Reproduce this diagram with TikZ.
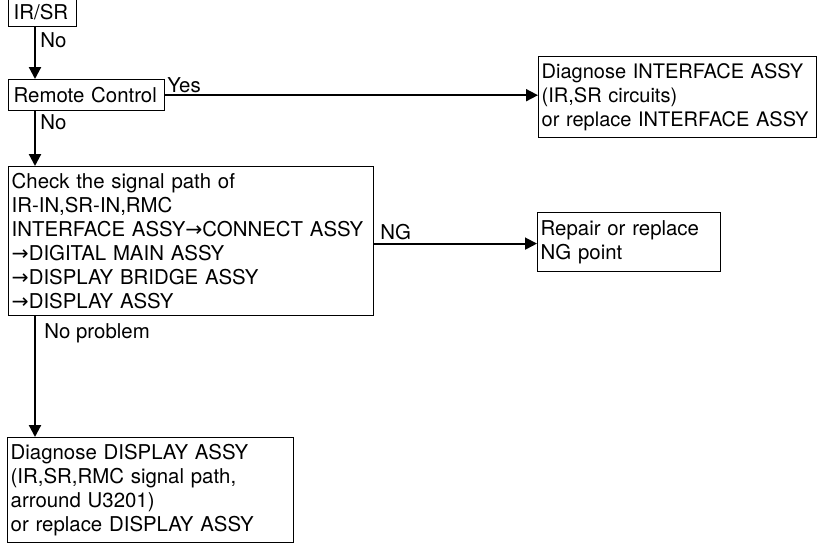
\documentclass[tikz,border=0pt]{standalone}
\usepackage{fontspec}
\setmainfont{TeX Gyre Heros}
\newfontfamily\arrowfont{DejaVu Sans}
\newcommand{\sigarrow}{{\arrowfont →}}
\usetikzlibrary{arrows.meta}

\begin{document}
\begin{tikzpicture}[x=0.5pt, y=-0.5pt,
    every node/.style={font=\fontsize{10.2}{12}\selectfont},
    box/.style={draw, line width=0.7pt, anchor=north west, align=left, inner xsep=1.5pt, inner ysep=0pt},
    lbl/.style={anchor=west, inner sep=0pt},
    arr/.style={line width=1.1pt, -{Triangle[length=6pt, width=6pt]}},
    harr/.style={arr, line width=0.9pt}]
    \useasboundingbox (0, 0) rectangle (820, 546);

    % 判断框
    \node[box, text width=31pt, minimum height=15pt] (irsr) at (8, -4) {\hspace{1pt}IR/SR};
    \node[box, text width=75pt, minimum height=15.5pt] (remote) at (8, 79) {\hspace{1pt}Remote Control};
    \node[box, text width=179.5pt, minimum height=74.5pt] (check) at (8, 166)
        {Check the signal path of\\
         IR-IN,SR-IN,RMC\\
         \mbox{INTERFACE ASSY\sigarrow CONNECT ASSY}\\
         \sigarrow DIGITAL MAIN ASSY\\
         \sigarrow DISPLAY BRIDGE ASSY\\
         \sigarrow DISPLAY ASSY};

    % 处理框
    \node[box, text width=136pt, minimum height=40.5pt, font=\fontsize{10}{12}\selectfont] (iface) at (538, 56)
        {\mbox{Diagnose INTERFACE ASSY}\\(IR,SR circuits)\\\mbox{or replace INTERFACE ASSY}};
    \node[box, text width=88.5pt, minimum height=29.5pt] (repair) at (537, 212)
        {Repair or replace\\NG point};
    \node[box, text width=140pt, minimum height=52.5pt] (display) at (7, 437)
        {Diagnose DISPLAY ASSY\\(IR,SR,RMC signal path,\\arround U3201)\\or replace DISPLAY ASSY};

    % 主干
    \coordinate (trunk) at (35, 0);
    \draw[arr] (irsr.south -| trunk) -- (remote.north -| trunk);
    \draw[arr] (remote.south -| trunk) -- (check.north -| trunk);
    \draw[arr] (check.south -| trunk) -- (display.north -| trunk);

    % 分支
    \draw[harr] (remote.east) -- (remote.east -| iface.west);
    \draw[harr] ([yshift=-1.2pt]check.east) -- ([yshift=-1.2pt]check.east -| repair.west);

    % 标注
    \node[lbl] (no1) at (40, 40) {No};
    \node[lbl] (no2) at (40, 122) {No};
    \node[lbl] (yes) at (167, 85) {Yes};
    \node[lbl] (ng) at (380, 232) {NG};
    \node[lbl] (noprob) at (44, 333) {No problem};
\end{tikzpicture}
\end{document}
